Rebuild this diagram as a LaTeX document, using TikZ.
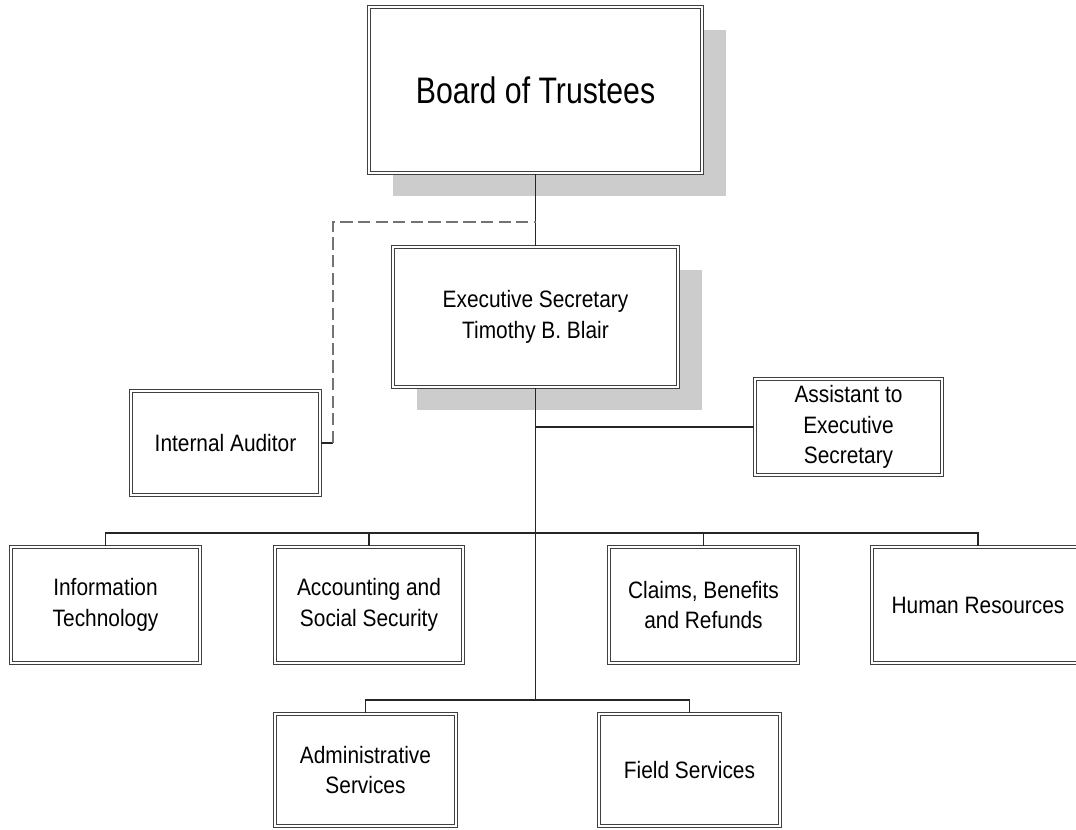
\documentclass[tikz,border=0pt]{standalone}
\usepackage{fontspec}
\setmainfont{Liberation Sans}[FakeStretch=0.88]
\usetikzlibrary{shadows}

\begin{document}
\begin{tikzpicture}[x=0.02cm, y=-0.02cm,
		box/.style={shape=rectangle, draw=black!75, double=white, line width=0.85pt,
			double distance=1.1pt, fill=white, align=center, inner sep=2pt,
			font=\fontsize{13.5}{17.5}\selectfont},
		shade/.style={general shadow={fill=black!20, shadow xshift=0.48cm, shadow yshift=-0.46cm}},
		link/.style={draw=black!85, line width=0.9pt},
		dotted link/.style={draw=black!55, line width=1.2pt, dash pattern=on 7pt off 3pt}]
		
		\useasboundingbox (0,0) rectangle (1076,830);
		
		\node (v0) at (535.5,90) [box, shade, minimum width=6.66cm, minimum height=3.32cm,
			font=\fontsize{21}{25}\selectfont] {\addfontfeature{FakeStretch=0.82}Board of Trustees};
		\node (v1) at (535.5,317) [box, shade, minimum width=5.7cm, minimum height=2.8cm] {Executive Secretary\\ Timothy B. Blair};
		\node (v2) at (225.5,443) [box, minimum width=3.78cm, minimum height=2.08cm] {Internal Auditor};
		\node (v3) at (848.5,427) [box, minimum width=3.74cm, minimum height=1.92cm] {Assistant to\\ Executive\\ Secretary};
		
		\node (v4) at (105.5,605) [box, minimum width=3.78cm, minimum height=2.32cm] {Information\\ Technology};
		\node (v5) at (369,605) [box, minimum width=3.76cm, minimum height=2.32cm] {Accounting and\\ Social Security};
		\node (v6) at (703.5,605) [box, minimum width=3.78cm, minimum height=2.32cm] {Claims, Benefits\\ and Refunds};
		\node (v7) at (978,605) [box, minimum width=4.24cm, minimum height=2.32cm] {Human Resources};
		
		\node (v8) at (365.5,770) [box, minimum width=3.62cm, minimum height=2.24cm] {Administrative\\ Services};
		\node (v9) at (689.5,770) [box, minimum width=3.62cm, minimum height=2.24cm] {Field Services};
		
		% junctions on the trunk
		\coordinate (tA) at (535.5,222);
		\coordinate (t3) at (535.5,427);
		\coordinate (bus1) at (535.5,533);
		\coordinate (bus2) at (535.5,700);
		\coordinate (aud) at (333,443);
		\coordinate (audtop) at (333,222);
		
		\draw[link] (v0) -- (v1);
		\draw[link] (v1.south) -- (bus2);
		\draw[link] (t3) -- (v3.west);
		\draw[link] (v2.east) -- (aud);
		\draw[dotted link] (aud) -- (audtop) -- (tA);
		
		\draw[link] (v4.north) |- (bus1) -| (v7.north);
		\foreach \v in {v5,v6}
			\draw[link] (\v.north) |- (bus1);
		\draw[link] (v8.north) |- (bus2) -| (v9.north);
	\end{tikzpicture}
\end{document}
